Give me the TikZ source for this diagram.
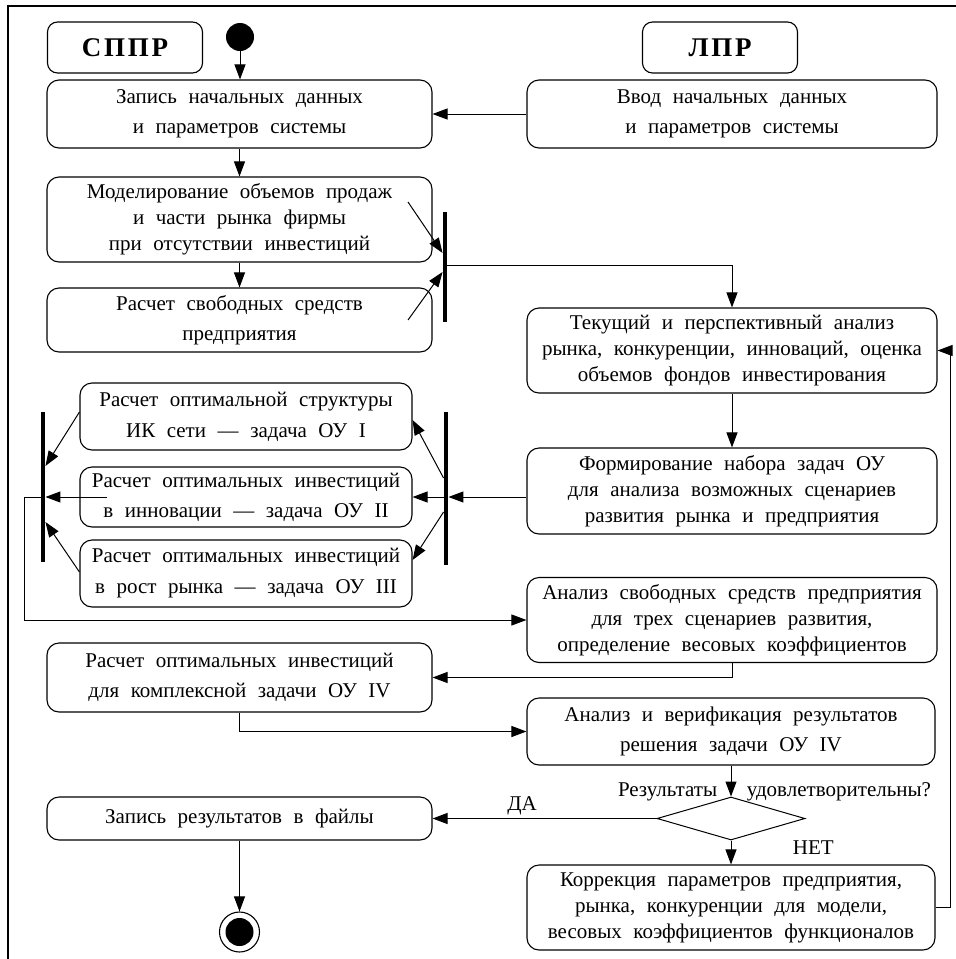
\documentclass[tikz,border=0pt]{standalone}
\usepackage{fontspec}
\setmainfont{Liberation Serif}
\newfontfamily\headfamily[LetterSpace=10]{Liberation Serif}
\usetikzlibrary{arrows.meta, shapes.geometric}
\newcommand\boxfont{\fontsize{21}{26}\selectfont\spaceskip=0.55em plus 0.1em minus 0.05em}
\newcommand\headfont{\headfamily\bfseries\fontsize{27}{30}\selectfont}

\begin{document}
\begin{tikzpicture}[x=1pt, y=-1pt,
    >={Triangle[length=15pt,width=11pt]},
    box/.style={draw, line width=1.1pt, rounded corners=12pt, align=center, inner sep=0pt, font=\boxfont},
    head/.style={draw, line width=1.1pt, rounded corners=10pt, minimum width=155, minimum height=51, font=\headfont},
    bar/.style={fill=black, inner sep=0pt, minimum width=4.5},
    flow/.style={->, line width=1pt}]
    \useasboundingbox (0,0) rectangle (956,959);

    % Frame
    \draw[line width=1.6pt] (8,959) -- (8,6) -- (956,6);

    % Lane headers and start
    \node[head] (sppr) at (125,47.5) {СППР};
    \node[head] (lpr) at (720,47.5) {ЛПР};
    \node[circle, fill=black, minimum size=28, inner sep=0pt] (start) at (240,37) {};

    % Initial data
    \node[box, minimum width=385, minimum height=68] (rec) at (239.5,114) {Запись начальных данных\\[4pt]и параметров системы};
    \node[box, minimum width=410, minimum height=68] (inp) at (732,114) {Ввод начальных данных\\[4pt]и параметров системы};
    \draw[flow] (start) -- (start |- rec.north);
    \draw[flow] (inp) -- (rec);

    % Modelling without investments
    \node[box, minimum width=385, minimum height=85] (model) at (239.5,219.5) {Моделирование объемов продаж\\и части рынка фирмы\\при отсутствии инвестиций};
    \node[box, minimum width=385, minimum height=64] (cash) at (239.5,320) {Расчет свободных средств\\[4pt]предприятия};
    \draw[flow] (rec) -- (model);
    \draw[flow] (model) -- (cash);

    % First join bar
    \node[bar, minimum height=110] (fork1) at (445,267) {};
    \coordinate (m1) at (408,202);
    \coordinate (c1) at (408,320);
    \draw[flow] (m1) -- (fork1.west |- 0,253);
    \draw[flow] (c1) -- (fork1.west |- 0,272);

    % Market analysis
    \node[box, minimum width=410, minimum height=85] (anal) at (732,350.5) {Текущий и перспективный анализ\\рынка, конкуренции, инноваций, оценка\\объемов фондов инвестирования};
    \node[box, minimum width=410, minimum height=86] (form) at (732,491) {Формирование набора задач ОУ\\для анализа возможных сценариев\\развития рынка и предприятия};
    \draw[flow] (fork1.east |- 0,265) -| (anal.north);
    \draw[flow] (anal) -- (form);

    % Optimisation tasks
    \node[box, minimum width=332, minimum height=67] (ou1) at (246,416.5) {Расчет оптимальной структуры\\[5pt]ИК сети — задача ОУ I};
    \node[box, minimum width=332, minimum height=60] (ou2) at (246,497) {Расчет оптимальных инвестиций\\[4pt]в инновации — задача ОУ II};
    \node[box, minimum width=332, minimum height=67] (ou3) at (246,573.5) {Расчет оптимальных инвестиций\\[5pt]в рост рынка — задача ОУ III};
    \node[bar, minimum height=153] (fork2) at (446,488.5) {};
    \node[bar, minimum height=150] (join) at (43,487) {};
    \draw[flow] (form.west |- ou2) -- (fork2.east |- ou2);
    \draw[flow] (fork2.west |- 0,478) -- (ou1.east |- 0,420);
    \draw[flow] (fork2.west |- ou2) -- (ou2.east);
    \draw[flow] (fork2.west |- 0,512) -- (ou3.east |- 0,560);
    \coordinate (ou2in) at (107,497);
    \draw[flow] (ou1.west |- 0,412) -- (join.east |- 0,466);
    \draw[flow] (ou2in) -- (join.east |- ou2);
    \draw[flow] (ou3.west |- 0,572) -- (join.east |- 0,522);

    % Free funds and complex task
    \node[box, minimum width=410, minimum height=85] (free) at (732,620) {Анализ свободных средств предприятия\\для трех сценариев развития,\\определение весовых коэффициентов};
    \node[box, minimum width=385, minimum height=69] (cplx) at (239.5,677.5) {Расчет оптимальных инвестиций\\[4pt]для комплексной задачи ОУ IV};
    \node[box, minimum width=408, minimum height=67] (verif) at (731,731.5) {Анализ и верификация результатов\\[4pt]решения задачи ОУ IV};
    \draw[flow] (join.west |- ou2) -- ++(-16,0) |- (free.west);
    \draw[flow] (free.south) |- (cplx.east);
    \draw[flow] (cplx.south) |- (verif.west);

    % Decision
    \node[diamond, draw, line width=1pt, minimum width=148, minimum height=43, inner sep=0pt] (ok) at (731,818.5) {};
    \draw[flow] (verif) -- (ok)
        node[pos=0.84, anchor=east, xshift=-10pt, font=\boxfont] {Результаты}
        node[pos=0.84, anchor=west, xshift=12pt, font=\boxfont] {удовлетворительны?};

    % Results and correction
    \node[box, minimum width=385, minimum height=43] (save) at (239.5,818.5) {Запись результатов в файлы};
    \node[box, minimum width=408, minimum height=85] (corr) at (731,907.5) {Коррекция параметров предприятия,\\рынка, конкуренции для модели,\\весовых коэффициентов функционалов};
    \draw[flow] (ok) -- (save) node[above, pos=0.6, inner sep=3pt, font=\boxfont] {ДА};
    \draw[flow] (ok) -- (corr) node[pos=0.3, anchor=west, xshift=58pt, font=\boxfont] {НЕТ};
    \draw[flow] (corr.east) -- ++(15,0) |- (anal.east);

    % End
    \node[circle, draw, line width=1.1pt, minimum size=40, inner sep=0pt] (stop) at (239.5,932) {};
    \fill (stop.center) circle (14pt);
    \draw[flow] (save) -- (stop);
\end{tikzpicture}
\end{document}
